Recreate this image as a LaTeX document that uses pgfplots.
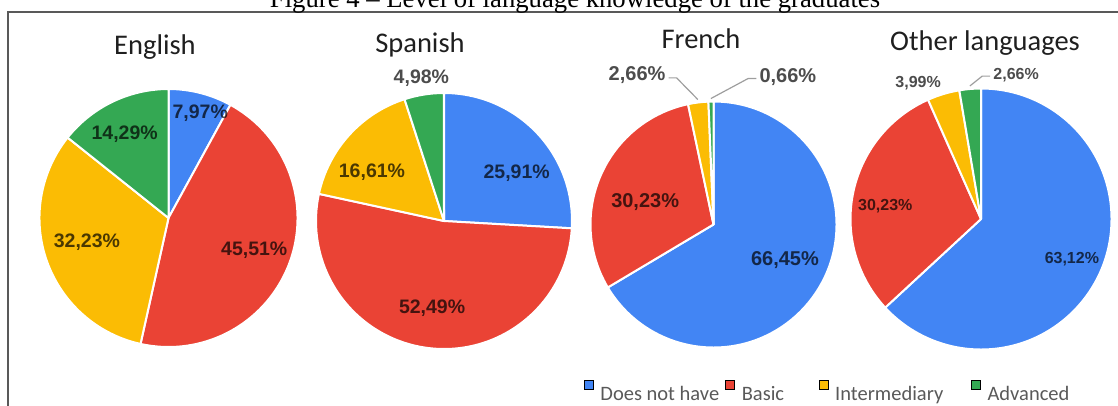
\documentclass[border=0pt]{standalone}
\usepackage{fontspec}
\setmainfont{Carlito}
\newfontfamily\arialf{Liberation Sans}
\newfontfamily\timesf{Liberation Serif}
\usepackage{pgfplots}
\usepackage{pgfplotstable}
\pgfplotsset{compat=1.18}
\usetikzlibrary{calc}

\definecolor{gblue}{HTML}{4285F4}
\definecolor{gred}{HTML}{EA4335}
\definecolor{gyellow}{HTML}{FBBC04}
\definecolor{ggreen}{HTML}{34A853}
\definecolor{legtext}{HTML}{595959}
\definecolor{leadgray}{HTML}{9E9E9E}

% v = share in %, c = slice colour, lr = label distance (radii),
% ld = label angle shift (deg, clockwise), lead = leader line (1 label left, -1 label right)
\pgfplotstableread{
v     c       lr    ld    lead
7.97  gblue   0.85  2.5   0
45.51 gred    0.71  0     0
32.23 gyellow 0.66  2.8   0
14.29 ggreen  0.73  -2    0
}\english

\pgfplotstableread{
v     c       lr    ld    lead
25.91 gblue   0.68  10    0
52.49 gred    0.69  0     0
16.61 gyellow 0.68  -8    0
4.98  ggreen  1.13  0     0
}\spanish

\pgfplotstableread{
v     c       lr    ld    lead
66.45 gblue   0.65  -3    0
30.23 gred    0.585 -5.4  0
2.66  gyellow 1.366 -19.9 1
0.66  ggreen  1.34  28    -1
}\french

\pgfplotstableread{
v     c       lr    ld    lead
63.12 gblue   0.76  0     0
30.23 gred    0.74  -4    0
3.99  gyellow 1.15  -8    0
2.66  ggreen  1.135 18.5  -1
}\other

% #1 table, #2 #3 centre (px), #4 radius (px), #5 label size, #6 node prefix
\newcommand\pie[6]{%
  \pgfplotstablegetrowsof{#1}%
  \pgfmathtruncatemacro\lastrow{\pgfplotsretval-1}%
  \def\cum{0}%
  \pgfplotsforeachungrouped \i in {0,...,\lastrow}{%
    \pgfplotstablegetelem{\i}{v}\of{#1}\let\val\pgfplotsretval
    \pgfplotstablegetelem{\i}{c}\of{#1}\let\col\pgfplotsretval
    \pgfmathsetmacro\aA{90-3.6*\cum}%
    \pgfmathsetmacro\aB{90-3.6*(\cum+\val)}%
    \edef\tmp{\noexpand\addplot[forget plot, fill=\col, draw=white, line width=2pt, line join=round]
      coordinates {(#2,#3)} -- ++(\aA:#4pt) arc[start angle=\aA, end angle=\aB, radius=#4pt] -- cycle;}%
    \tmp
    \pgfmathsetmacro\cum{\cum+\val}%
  }%
  \def\cum{0}%
  \pgfplotsforeachungrouped \i in {0,...,\lastrow}{%
    \pgfplotstablegetelem{\i}{v}\of{#1}\let\val\pgfplotsretval
    \pgfplotstablegetelem{\i}{lr}\of{#1}\let\lr\pgfplotsretval
    \pgfplotstablegetelem{\i}{ld}\of{#1}\let\ld\pgfplotsretval
    \pgfplotstablegetelem{\i}{lead}\of{#1}\let\lead\pgfplotsretval
    \pgfmathsetmacro\aM{90-3.6*(\cum+\val/2)}%
    \pgfmathsetmacro\aL{\aM-\ld}%
    \pgfmathsetmacro\dL{\lr*#4}%
    \pgfmathsetmacro\dE{#4+3}%
    \edef\tmp{\noexpand\node[font={\noexpand\arialf\noexpand\bfseries\noexpand\fontsize{#5}{#5}\noexpand\selectfont},
      text=black, text opacity=0.7, inner sep=0pt] (#6\i) at ($(axis cs:#2,#3)+(\aL:\dL pt)$)
      {\noexpand\pgfmathprintnumber[fixed, fixed zerofill, precision=2, use comma, assume math mode=true]{\val}\noexpand\%};}%
    \tmp
    \ifnum\lead=1
      \edef\tmp{\noexpand\draw[leadgray, line width=1.2pt] ($(axis cs:#2,#3)+(\aM:\dE pt)$)
        -- ([shift={(11pt,-3pt)}]#6\i.east) -- ([shift={(3pt,-3pt)}]#6\i.east);}\tmp
    \fi
    \ifnum\lead=-1
      \edef\tmp{\noexpand\draw[leadgray, line width=1.2pt] ($(axis cs:#2,#3)+(\aM:\dE pt)$)
        -- ([shift={(-11pt,-1pt)}]#6\i.west) -- ([shift={(-3pt,-1pt)}]#6\i.west);}\tmp
    \fi
    \pgfmathsetmacro\cum{\cum+\val}%
  }%
}

\begin{document}
\begin{tikzpicture}
\useasboundingbox (0pt,0pt) rectangle (1118pt,-406pt);
\clip (0pt,0pt) rectangle (1118pt,-406pt);
\begin{axis}[
  at={(0pt,0pt)}, anchor=north west,
  width=1118pt, height=406pt, scale only axis,
  xmin=0, xmax=1118, ymin=0, ymax=406, y dir=reverse,
  hide axis, clip=false,
  legend columns=-1,
  legend cell align=left,
  legend image code/.code={\fill[#1] (0pt,5pt) rectangle (9pt,14pt);},
  legend style={at={(584/1118,1-391/406)}, anchor=west, draw=none, fill=none,
    inner sep=0pt, outer sep=0pt, nodes={inner sep=0pt},
    font=\fontsize{20.5}{20.5}\selectfont, text=legtext,
    /tikz/every odd column/.append style={column sep=7pt},
    /tikz/every even column/.append style={column sep=0pt}},
]
\addlegendimage{fill=gblue}
\addlegendentry{\makebox[125pt][l]{Does not have}}
\addlegendimage{fill=gred}
\addlegendentry{\makebox[77pt][l]{Basic}}
\addlegendimage{fill=gyellow}
\addlegendentry{\makebox[136pt][l]{Intermediary}}
\addlegendimage{fill=ggreen}
\addlegendentry{Advanced}

\pie{\english}{168.5}{218}{129}{19.5}{en}
\pie{\spanish}{444}{221}{128}{19.5}{es}
\pie{\french}{713.5}{224.5}{123}{20}{fr}
\pie{\other}{981}{219}{130.5}{16}{ot}

\draw[line width=1.6pt, black!65] (axis cs:8,420) -- (axis cs:8,12) -- (axis cs:1130,12);

\node[font=\timesf\fontsize{26.7}{28}\selectfont, anchor=base] at (axis cs:575,7.5)
  {Figure 4 – Level of language knowledge of the graduates};

\begin{scope}[every node/.style={font=\fontsize{28.5}{30}\selectfont, anchor=base, text=black!88}]
\node at (axis cs:155,54) {English};
\node at (axis cs:420,52) {Spanish};
\node at (axis cs:701,48) {French};
\node at (axis cs:985,50) {Other languages};
\end{scope}
\end{axis}
\end{tikzpicture}
\end{document}
